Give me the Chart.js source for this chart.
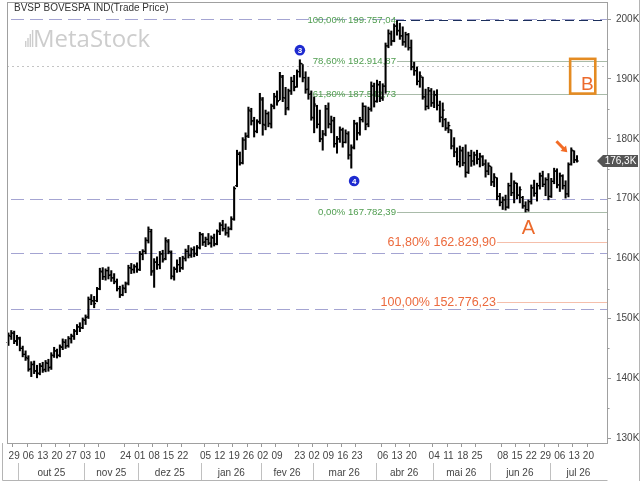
<!DOCTYPE html>
<html><head><meta charset="utf-8">
<style>html,body{margin:0;padding:0;background:#fff}canvas{display:block}</style>
<script src="https://cdn.jsdelivr.net/npm/chart.js@4.4.1/dist/chart.umd.min.js"></script>
</head><body>
<canvas id="c" width="640" height="482" style="width:640px;height:482px"></canvas>
<script>
const dates = [
"2025-09-25","2025-09-26","2025-09-29","2025-09-30",
"2025-10-01","2025-10-02","2025-10-03","2025-10-06","2025-10-07","2025-10-08","2025-10-09","2025-10-10","2025-10-13","2025-10-14","2025-10-15","2025-10-16","2025-10-17","2025-10-20","2025-10-21","2025-10-22","2025-10-23","2025-10-24","2025-10-27","2025-10-28","2025-10-29","2025-10-30","2025-10-31",
"2025-11-03","2025-11-04","2025-11-05","2025-11-06","2025-11-07","2025-11-10","2025-11-11","2025-11-12","2025-11-13","2025-11-14","2025-11-17","2025-11-18","2025-11-19","2025-11-21","2025-11-24","2025-11-25","2025-11-26","2025-11-27","2025-11-28",
"2025-12-01","2025-12-02","2025-12-03","2025-12-04","2025-12-05","2025-12-08","2025-12-09","2025-12-10","2025-12-11","2025-12-12","2025-12-15","2025-12-16","2025-12-17","2025-12-18","2025-12-19","2025-12-22","2025-12-23","2025-12-24","2025-12-26","2025-12-29","2025-12-30","2025-12-31",
"2026-01-02","2026-01-05","2026-01-06","2026-01-07","2026-01-08","2026-01-09","2026-01-12","2026-01-13","2026-01-14","2026-01-15","2026-01-16","2026-01-19","2026-01-20","2026-01-21","2026-01-22","2026-01-23","2026-01-26","2026-01-27","2026-01-28","2026-01-29","2026-01-30",
"2026-02-02","2026-02-03","2026-02-04","2026-02-05","2026-02-06","2026-02-09","2026-02-10","2026-02-11","2026-02-12","2026-02-13","2026-02-18","2026-02-19","2026-02-20","2026-02-23","2026-02-24","2026-02-25","2026-02-26","2026-02-27",
"2026-03-02","2026-03-03","2026-03-04","2026-03-05","2026-03-06","2026-03-09","2026-03-10","2026-03-11","2026-03-12","2026-03-13","2026-03-16","2026-03-17","2026-03-18","2026-03-19","2026-03-20","2026-03-23","2026-03-24","2026-03-25","2026-03-26","2026-03-27","2026-03-30","2026-03-31",
"2026-04-01","2026-04-02","2026-04-06","2026-04-07","2026-04-08","2026-04-09","2026-04-10","2026-04-13","2026-04-14","2026-04-15","2026-04-16","2026-04-17","2026-04-20","2026-04-22","2026-04-23","2026-04-24","2026-04-27","2026-04-28","2026-04-29","2026-04-30",
"2026-05-04","2026-05-05","2026-05-06","2026-05-07","2026-05-08","2026-05-11","2026-05-12","2026-05-13","2026-05-14","2026-05-15","2026-05-18","2026-05-19","2026-05-20","2026-05-21","2026-05-22","2026-05-25","2026-05-26","2026-05-27","2026-05-28","2026-05-29",
"2026-06-01","2026-06-02","2026-06-03","2026-06-05","2026-06-08","2026-06-09","2026-06-10","2026-06-11","2026-06-12","2026-06-15","2026-06-16","2026-06-17","2026-06-18","2026-06-19","2026-06-22","2026-06-23","2026-06-24","2026-06-25","2026-06-26","2026-06-29","2026-06-30",
"2026-07-01","2026-07-02","2026-07-03","2026-07-06","2026-07-07","2026-07-08","2026-07-09","2026-07-10","2026-07-13","2026-07-14","2026-07-15","2026-07-16","2026-07-17","2026-07-20","2026-07-21","2026-07-22","2026-07-23","2026-07-24","2026-07-27","2026-07-28"
];
// prices in thousands of points
const opens = [
146,147,147.5,146.3,146.6,145,144,143.3,141.6,142.4,
141.3,140.9,142,141.5,142.5,141.9,143.8,144.6,143.9,145.2,
146,145.5,146.6,147,147.9,148.6,148.5,149.7,150.3,153.2,
152.9,153,155,157.8,157,158,157.3,156.8,156.1,155,
154,155,155.9,158.4,158.1,158.6,158.2,160.7,161.2,163,
164.5,158,159.4,159,160.8,160,162.8,161,157,158.3,
159,158.5,160,161.2,160.6,161.5,160.9,161.9,164,162.8,
163.2,162.6,163.4,162.5,164.5,165.6,165,164.3,165,166.6,
172.2,177.4,176,179.8,180.5,184.6,183,181.3,182.9,186.5,
182.3,184.2,182.5,185.4,187,186.4,190.3,186.8,185.2,188,
189.6,188.7,191.2,192.5,190.2,188.3,187.5,183.5,185.5,182.4,
180,180.8,185,182.4,183,179.2,180,181.5,179.4,180.8,
177.3,178.6,182.5,181,183.2,185.4,182.5,185,188.8,186.3,
189,186.8,188.8,195.5,197.5,196.4,198.8,198,197.2,196.2,
197.4,195.2,192,191.4,189.6,190.3,187,185.4,188,186,
187.3,185.6,183.6,183.2,181.8,181.5,178.8,177.8,176.2,178,
176,174.4,177.2,176.3,177.3,176.6,177,175.8,174.6,175.4,
172.8,173.5,170.4,169.4,169.8,168.6,172.2,171,172.6,170.6,
170.2,168.8,168.2,169.5,171.8,170.9,172.2,173.8,172.4,173.2,
170.4,172.9,174.6,172.3,173.8,172.2,170.8,175.8,178,176.5
];
const highs = [
147.6,148,147.9,147.2,146.9,145.4,144.6,143.8,142.8,142.9,
142.2,142.5,142.7,143,143.2,144.3,145.2,144.9,145.6,146.6,
146.5,147,147.4,148.2,149,149.3,150.1,150.6,153.6,154,
153.7,155.2,158.4,158.5,158.3,158.6,158,157.5,156.6,155.4,
155.6,156.1,158.9,159.2,159,159.3,161.2,161.5,163.5,165.3,
164.9,160,160.3,161.2,161.4,163.5,163.2,161.3,158.6,159.8,
160.2,160.4,161.6,162.2,161.8,162,162.2,164.4,164.2,163.6,
164.2,163.8,164.1,164.8,166,166.4,165.8,165.3,167,172,
178.1,177.8,180.2,181,185.3,185.1,183.6,183.2,187.6,186.9,
184.8,184.5,185.8,187.6,188,191.1,190.6,188.6,188.3,190.3,
190.6,191.5,193.2,192.4,191.2,190.3,188,187,185.6,184.8,
181.4,185.6,186,183.8,183.6,180.4,182,181.8,181.5,181.2,
179,183.1,182.7,183.6,186,185.5,185.3,189.5,189.3,189.8,
189.6,189.2,196,198.2,198,199.2,199.757,199.3,198.7,197.8,
197.6,196.5,192.8,192,191.2,190.3,188.3,188.6,188.4,188,
188.2,186.3,186,183.4,182.8,181.5,180.2,178.5,178.8,178.6,
179,177.8,178.1,177.8,178.1,177.6,177.2,176.5,176,175.3,
174.2,173.5,170.9,170.3,170.6,172.6,174.3,173,172.6,172,
170.4,169.5,169.8,172.3,173.1,172.6,174.3,174.6,173.5,174.2,
173.4,175.1,175,174.3,174,173,176,178.5,178,177.2
];
const lows = [
145.5,146.5,145.8,145.5,144.6,143.6,143,141.2,140.3,140.8,
140.1,140.6,141,141.1,141.2,141.5,143.5,143.4,143.6,144.8,
145,145.2,145.9,146.5,147.3,147.8,148.3,149,150,152.3,
151.8,152.8,154.8,156.5,156.4,156.6,156.2,155.8,154.6,153.5,
153.8,154.3,155.6,157.5,157.6,157.7,158,159.8,160.8,162.6,
157.2,155.2,158.2,158.3,159.4,159.8,160.8,156.6,156.4,157.7,
157.8,158.2,159.6,160.1,160.2,160.3,160.5,161.6,162.2,162,
162.3,161.9,162.1,162.3,164,164.6,163.9,163.6,164.8,166.4,
172,175.6,175.8,178.2,180.2,182.3,180.3,181,182.5,180.6,
181.5,182,181.8,185,185.6,186.5,186.2,184,184.8,187.4,
188,188.6,190.3,189.5,187.6,186.6,183.1,181,181.8,179.5,
178.1,180.5,181.8,181,178.6,177.6,179.4,178.6,179.3,176.6,
175.1,178.3,179.8,180.6,182.8,181.5,182,184.6,185.3,186.1,
186.2,186.4,187.6,195.2,195.6,196.2,197.3,196.6,195.6,195.3,
194.8,191.5,190.6,189,188.6,186.6,184.8,185,185.4,185.2,
184.8,182.8,182,181.4,181,178.3,177,175.6,175.3,175.5,
173.6,174.2,175.4,175.6,175.8,175.3,175.5,173.6,174,172.2,
172,169.8,168.8,168.2,168.1,168.4,170.5,169.3,170,169.3,
168.4,167.78,167.9,169.1,170.4,169.6,171.6,172,170.5,169.8,
170.2,172.5,171.8,171.2,171.6,170.1,170.3,175.6,176,176.1
];
const closes = [
147.2,147.6,146.2,146.8,145,144,143.5,141.5,142.3,141.2,
140.8,142.1,141.4,142.6,141.8,143.9,144.6,143.8,145.3,146.1,
145.4,146.7,147.1,147.9,148.6,148.4,149.8,150.2,153.2,153,
152.5,154.9,157.9,157,158,157.2,156.8,156.2,155,153.9,
155.1,155.8,158.5,158.2,158.7,158.1,160.8,161.2,163.1,164.9,
157.8,159.4,159,160.8,159.8,163,161.2,157.1,158.2,159,
158.4,160.1,161.2,160.6,161.5,160.8,161.8,164.1,162.7,163.2,
162.6,163.5,162.4,164.6,165.6,165,164.3,164.9,166.6,171.7,
177.6,176,179.8,180.4,184.8,183,181.2,182.8,186.8,182.4,
184.2,182.6,185.5,187.1,186.2,190.5,186.9,185,188,189.6,
188.6,191.2,192.6,190.2,188.2,187.4,183.6,185.8,182.4,180,
180.8,185,182.5,183.1,179.2,180,181.5,179.4,180.9,177.3,
178.5,182.6,181,183.2,185.4,182.4,184.9,188.8,186.2,189.1,
186.8,188.8,195.5,197.6,196.3,198.8,198.1,197.2,196.2,197.4,
195.2,192,191.4,189.6,190.5,187,185.4,188,186,187.4,
185.6,183.6,184.8,181.8,182.2,178.8,177.8,176.2,178.1,176,
174.4,177.2,176.3,177.3,176.6,177.1,175.8,174.6,175.5,172.8,
173.6,170.4,169.4,169.8,168.6,172.2,171,172.6,170.6,171.5,
168.8,168.2,169.5,171.8,170.9,172.2,173.8,172.4,173.2,170.4,
172.9,174.6,172.3,173.8,172.2,170.8,175.7,178.1,176.5,176.3
];
const tickDates = ["2025-09-29","2025-10-06","2025-10-13","2025-10-20","2025-10-27","2025-11-03","2025-11-10","2025-11-24","2025-12-01","2025-12-08","2025-12-15","2025-12-22","2026-01-05","2026-01-12","2026-01-19","2026-01-26","2026-02-02","2026-02-09","2026-02-23","2026-03-02","2026-03-09","2026-03-16","2026-03-23","2026-04-06","2026-04-13","2026-04-20","2026-05-04","2026-05-11","2026-05-18","2026-05-25","2026-06-08","2026-06-15","2026-06-22","2026-06-29","2026-07-06","2026-07-13","2026-07-20"];
const monthKeys = ["2025-10","2025-11","2025-12","2026-01","2026-02","2026-03","2026-04","2026-05","2026-06","2026-07"];
const monthNames = ["out 25","nov 25","dez 25","jan 26","fev 26","mar 26","abr 26","mai 26","jun 26","jul 26"];
const yTicks = [130,140,150,160,170,180,190,200];
const yMinorTicks = [135,145,155,165,175,185,195];
const hLineValues = [200,170,160.93,151.6];
const dottedLineValue = 192.1;
const fibGreenValues = [199.75704,192.91487,187.54273,167.78239];
const fibGreenLabels = ["100,00% 199.757,04","78,60% 192.914,87","61,80% 187.542,73","0,00% 167.782,39"];
const fibOrangeValues = [162.8299,152.77623];
const fibOrangeLabels = ["61,80% 162.829,90","100,00% 152.776,23"];
const titleText = "BVSP BOVESPA IND(Trade Price)";

const tickSet = new Set(tickDates);
const FONT = "'Liberation Sans', Arial, sans-serif";

const overlay = {
  id: 'overlay',
  beforeDraw(chart) {
    const c = chart.ctx; c.save(); c.fillStyle = '#fff'; c.fillRect(0, 0, chart.width, chart.height); c.restore();
  },
  beforeDatasetsDraw(chart) {
    const {ctx, chartArea: a, scales: {x, y}} = chart;
    ctx.save();
    // watermark
    ctx.fillStyle = '#cdcdcd';
    [[25,41],[27.3,38],[29.6,34],[31.9,30]].forEach(([bx, top]) => ctx.fillRect(bx, top, 1.4, 47 - top));
    ctx.font = "24px 'Open Sans', sans-serif";
    ctx.textBaseline = 'alphabetic'; ctx.textAlign = 'left';
    ctx.fillText('MetaStock', 33, 47);
    // title
    ctx.fillStyle = '#333'; ctx.font = '10px ' + FONT; ctx.textBaseline = 'middle';
    ctx.fillText(titleText, 14, 8.5);
    // dashed lavender lines
    ctx.lineWidth = 1; ctx.strokeStyle = '#a4a4d2'; ctx.setLineDash([13, 6]);
    hLineValues.forEach(v => {
      const py = Math.round(y.getPixelForValue(v)) + 0.5;
      ctx.beginPath(); ctx.moveTo(a.left + 4, py); ctx.lineTo(a.right, py); ctx.stroke();
    });
    // dotted grey
    ctx.strokeStyle = '#c4c4c4'; ctx.setLineDash([2, 3]);
    let py = Math.round(y.getPixelForValue(dottedLineValue)) + 0.5;
    ctx.beginPath(); ctx.moveTo(a.left, py); ctx.lineTo(a.right, py); ctx.stroke();
    ctx.setLineDash([]);
    // green fib
    const peakIdx = highs.indexOf(Math.max(...highs));
    const peakX = x.getPixelForValue(peakIdx);
    ctx.font = '9.6px ' + FONT; ctx.textAlign = 'right'; ctx.textBaseline = 'middle';
    fibGreenValues.forEach((v, k) => {
      const yy = Math.round(y.getPixelForValue(v)) + 0.5;
      const w = ctx.measureText(fibGreenLabels[k]).width;
      let sx = peakX;
      if (k === 0) { ctx.strokeStyle = '#1c2f5c'; ctx.setLineDash([9, 5]); ctx.lineWidth = 1.2; }
      else { ctx.strokeStyle = '#a9bba9'; ctx.setLineDash([]); ctx.lineWidth = 1; }
      if (k === 2) sx = peakX - 1 - w;
      ctx.beginPath(); ctx.moveTo(sx, yy); ctx.lineTo(a.right, yy); ctx.stroke();
      ctx.fillStyle = '#4f9d4f';
      ctx.fillText(fibGreenLabels[k], peakX - 1, yy);
    });
    ctx.setLineDash([]);
    // orange fib
    const oX = x.getPixelForValue(171);
    ctx.font = '12.5px ' + FONT;
    fibOrangeValues.forEach((v, k) => {
      const yy = Math.round(y.getPixelForValue(v)) + 0.5;
      ctx.strokeStyle = '#f5bfab'; ctx.lineWidth = 1;
      ctx.beginPath(); ctx.moveTo(oX, yy); ctx.lineTo(a.right, yy); ctx.stroke();
      ctx.fillStyle = '#ec6a3d';
      ctx.fillText(fibOrangeLabels[k], oX - 1, yy);
    });
    ctx.restore();
  },
  afterDatasetsDraw(chart) {
    const {ctx, chartArea: a, scales: {x, y}} = chart;
    ctx.save();
    // open / close ticks
    const meta = chart.getDatasetMeta(0);
    ctx.strokeStyle = '#000'; ctx.lineWidth = 1.2;
    meta.data.forEach((bar, i) => {
      if (opens[i] === undefined) return;
      const cx = bar.x;
      const yo = y.getPixelForValue(opens[i]), yc = y.getPixelForValue(closes[i]);
      ctx.beginPath();
      ctx.moveTo(cx - 1.9, yo); ctx.lineTo(cx, yo);
      ctx.moveTo(cx, yc); ctx.lineTo(cx + 1.9, yc);
      ctx.stroke();
    });
    // wave markers
    const marker = (idx, val, txt) => {
      const mx = x.getPixelForValue(idx), my = y.getPixelForValue(val);
      ctx.fillStyle = '#1e2bd0'; ctx.beginPath(); ctx.arc(mx, my, 5.3, 0, Math.PI * 2); ctx.fill();
      ctx.fillStyle = '#fff'; ctx.font = 'bold 8px ' + FONT; ctx.textAlign = 'center'; ctx.textBaseline = 'middle';
      ctx.fillText(txt, mx, my + 0.5);
    };
    marker(102, 194.8, '3');
    marker(121, 172.95, '4');
    // A
    ctx.fillStyle = '#ec6a2c'; ctx.font = '20px ' + FONT; ctx.textAlign = 'center'; ctx.textBaseline = 'middle';
    ctx.fillText('A', x.getPixelForValue(182), y.getPixelForValue(164.95));
    // B box
    const bx1 = x.getPixelForValue(196.6), bx2 = x.getPixelForValue(205.4);
    const by1 = y.getPixelForValue(193.35), by2 = y.getPixelForValue(187.55);
    ctx.strokeStyle = '#e48b22'; ctx.lineWidth = 2.6;
    ctx.strokeRect(bx1, by1, bx2 - bx1, by2 - by1);
    ctx.fillStyle = '#ec6a2c'; ctx.font = '19px ' + FONT; ctx.textAlign = 'right'; ctx.textBaseline = 'alphabetic';
    ctx.fillText('B', bx2 - 1.5, by2 - 4);
    // arrow
    const ax1 = x.getPixelForValue(191.8), ay1 = y.getPixelForValue(179.6);
    const ax2 = x.getPixelForValue(195.6), ay2 = y.getPixelForValue(177.75);
    const ang = Math.atan2(ay2 - ay1, ax2 - ax1);
    ctx.strokeStyle = '#f26b25'; ctx.fillStyle = '#f26b25'; ctx.lineWidth = 3;
    ctx.beginPath(); ctx.moveTo(ax1, ay1); ctx.lineTo(ax2 - 4 * Math.cos(ang), ay2 - 4 * Math.sin(ang)); ctx.stroke();
    ctx.beginPath(); ctx.moveTo(ax2, ay2);
    ctx.lineTo(ax2 - 7 * Math.cos(ang - 0.6), ay2 - 7 * Math.sin(ang - 0.6));
    ctx.lineTo(ax2 - 7 * Math.cos(ang + 0.6), ay2 - 7 * Math.sin(ang + 0.6));
    ctx.closePath(); ctx.fill();
    // frames
    ctx.strokeStyle = '#a0a0a0'; ctx.lineWidth = 1;
    ctx.strokeRect(a.left + 0.5, a.top + 0.5, a.right - a.left, a.bottom - a.top);
    ctx.strokeStyle = '#b4b4b4';
    ctx.beginPath();
    ctx.moveTo(2.5, a.bottom); ctx.lineTo(2.5, 480.5); ctx.lineTo(a.right + 0.5, 480.5);
    ctx.moveTo(639.5, 0); ctx.lineTo(639.5, 481);
    ctx.stroke();
    // minor y ticks
    ctx.strokeStyle = '#999';
    yMinorTicks.forEach(v => {
      const yy = Math.round(y.getPixelForValue(v)) + 0.5;
      ctx.beginPath(); ctx.moveTo(a.right + 0.5, yy); ctx.lineTo(a.right + 2.5, yy); ctx.stroke();
    });
    // month row
    const w = (x.getPixelForValue(1) - x.getPixelForValue(0));
    ctx.fillStyle = '#444'; ctx.font = '10px ' + FONT; ctx.textAlign = 'center'; ctx.textBaseline = 'middle';
    ctx.strokeStyle = '#c0c0c0';
    monthKeys.forEach((mk, k) => {
      const first = dates.findIndex(d => d.startsWith(mk));
      let last = -1; dates.forEach((d, i) => { if (d.startsWith(mk)) last = i; });
      const l = x.getPixelForValue(first) - w / 2, r = x.getPixelForValue(last) + w / 2;
      const sx = Math.round(l) + 0.5;
      ctx.beginPath(); ctx.moveTo(sx, 463); ctx.lineTo(sx, 480); ctx.stroke();
      ctx.fillText(monthNames[k], (l + Math.min(r, a.right)) / 2, 473);
    });
    // last price tag
    const lastVal = closes[closes.length - 1];
    const ty = Math.round(y.getPixelForValue(lastVal));
    ctx.fillStyle = '#555';
    ctx.beginPath();
    ctx.moveTo(597, ty); ctx.lineTo(603, ty - 6); ctx.lineTo(638, ty - 6); ctx.lineTo(638, ty + 6); ctx.lineTo(603, ty + 6);
    ctx.closePath(); ctx.fill();
    ctx.fillStyle = '#fff'; ctx.font = '10px ' + FONT; ctx.textAlign = 'center'; ctx.textBaseline = 'middle';
    ctx.fillText(lastVal.toFixed(1).replace('.', ',') + 'K', 620.5, ty + 0.5);
    ctx.restore();
  }
};

new Chart(document.getElementById('c'), {
  type: 'bar',
  data: {
    labels: dates,
    datasets: [{
      data: dates.map((d, i) => (lows[i] === undefined ? null : [lows[i], highs[i]])),
      backgroundColor: '#000', borderWidth: 0, barThickness: 1.4, grouped: false
    }]
  },
  options: {
    responsive: false, animation: false, devicePixelRatio: 1,
    layout: {padding: {left: 7, top: 2, right: 0, bottom: 0}},
    plugins: {legend: {display: false}, tooltip: {enabled: false}},
    scales: {
      x: {
        offset: true,
        border: {display: false},
        grid: {drawOnChartArea: false, drawTicks: true, tickLength: 4,
          tickColor: (c) => tickSet.has(dates[c.index]) ? '#999' : 'rgba(0,0,0,0)'},
        ticks: {autoSkip: false, maxRotation: 0, minRotation: 0, padding: 3, color: '#444',
          font: {family: FONT, size: 10},
          callback: (v, i) => tickSet.has(dates[i]) ? dates[i].slice(8) : ''},
        afterFit: (s) => { s.height = 39; s.paddingLeft = 0; s.paddingRight = 0; }
      },
      y: {
        position: 'right', min: 129.22, max: 202.84,
        border: {display: false},
        grid: {drawOnChartArea: false, drawTicks: true, tickLength: 4, tickColor: '#999'},
        ticks: {padding: 5, color: '#444', font: {family: FONT, size: 10},
          callback: (v) => v + 'K'},
        afterBuildTicks: (s) => { s.ticks = yTicks.map(v => ({value: v})); },
        afterFit: (s) => { s.width = 33; s.paddingTop = 0; s.paddingBottom = 0; }
      }
    }
  },
  plugins: [overlay]
});
</script>
</body></html>
